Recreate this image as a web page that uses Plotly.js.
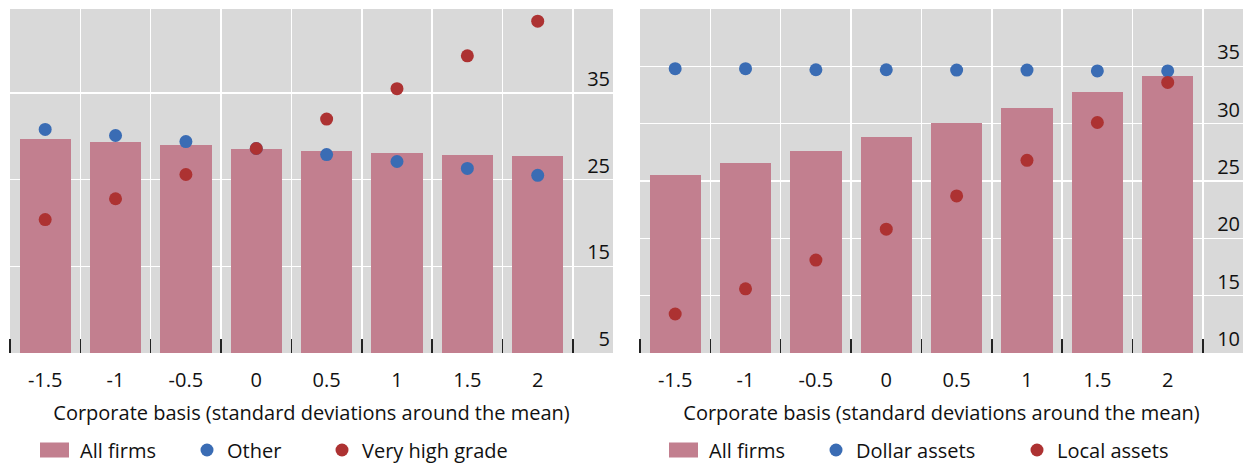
<!DOCTYPE html>
<html><head><meta charset="utf-8">
<script src="https://cdn.plot.ly/plotly-3.0.1.min.js"></script>
<style>html,body{margin:0;padding:0;background:#fff}#chart{width:1250px;height:465px}</style>
</head><body><div id="chart"></div>
<script>
const categories = ['-1.5', '-1', '-0.5', '0', '0.5', '1', '1.5', '2'];
const leftAllFirms = [29.7, 29.3, 29.0, 28.6, 28.3, 28.1, 27.8, 27.7];
const leftOther = [30.8, 30.1, 29.4, 28.6, 27.9, 27.1, 26.3, 25.5];
const leftVeryHighGrade = [20.4, 22.8, 25.6, 28.6, 32.0, 35.5, 39.3, 43.3];
const rightAllFirms = [25.5, 26.6, 27.6, 28.8, 30.05, 31.4, 32.75, 34.15];
const rightDollarAssets = [34.8, 34.8, 34.7, 34.7, 34.67, 34.67, 34.6, 34.6];
const rightLocalAssets = [13.4, 15.6, 18.1, 20.8, 23.7, 26.8, 30.1, 33.6];
const leftTicks = [5, 15, 25, 35];
const rightTicks = [10, 15, 20, 25, 30, 35];
const xTitle = 'Corporate basis (standard deviations around the mean)';

const idx = categories.map((c, i) => i);
const FONT = 'Open Sans, Noto Sans, sans-serif';
const FS = 20;
const BAR = '#c27f8f', BLUE = '#3a6cb4', RED = '#ad3232';

const traces = [
  {type: 'bar', x: idx, y: leftAllFirms, name: 'All firms', marker: {color: BAR}, width: 0.73, xaxis: 'x', yaxis: 'y', legend: 'legend'},
  {type: 'scatter', mode: 'markers', x: idx, y: leftOther, name: 'Other', marker: {color: BLUE, size: 13}, xaxis: 'x', yaxis: 'y', legend: 'legend2'},
  {type: 'scatter', mode: 'markers', x: idx, y: leftVeryHighGrade, name: 'Very high grade', marker: {color: RED, size: 13}, xaxis: 'x', yaxis: 'y', legend: 'legend3'},
  {type: 'bar', x: idx, y: rightAllFirms, name: 'All firms', marker: {color: BAR}, width: 0.73, xaxis: 'x2', yaxis: 'y2', legend: 'legend4'},
  {type: 'scatter', mode: 'markers', x: idx, y: rightDollarAssets, name: 'Dollar assets', marker: {color: BLUE, size: 13}, xaxis: 'x2', yaxis: 'y2', legend: 'legend5'},
  {type: 'scatter', mode: 'markers', x: idx, y: rightLocalAssets, name: 'Local assets', marker: {color: RED, size: 13}, xaxis: 'x2', yaxis: 'y2', legend: 'legend6'}
];

function xax(domain) {
  return {
    domain: domain, range: [-0.5, 8.07], tickmode: 'array', tickvals: idx, ticktext: categories,
    showgrid: false, zeroline: false, ticks: '', ticklabelstandoff: 13, automargin: false,
    tickfont: {family: FONT, size: FS, color: '#111'},
    title: {text: xTitle, font: {family: FONT, size: FS, color: '#111'}, standoff: 13},
    minor: {tick0: -0.5, dtick: 1, showgrid: true, gridcolor: '#ffffff', gridwidth: 1.5, ticks: 'inside', ticklen: 14, tickwidth: 1.5, tickcolor: '#222'},
    fixedrange: true
  };
}
function yax(range, ticks, anchor) {
  return {
    range: range, side: 'right', anchor: anchor, tickmode: 'array', tickvals: ticks, automargin: false,
    ticklabelposition: 'inside top', showgrid: true, gridcolor: '#ffffff', gridwidth: 1.5,
    zeroline: false, ticks: '', tickfont: {family: FONT, size: FS, color: '#111'}, fixedrange: true
  };
}
function leg(px) {
  return {orientation: 'h', x: px / 1250, xanchor: 'left', y: -0.282, yanchor: 'middle',
    bgcolor: 'rgba(0,0,0,0)', font: {family: FONT, size: FS, color: '#111'}};
}
const layout = {
  width: 1250, height: 465, margin: {l: 0, r: 0, t: 9, b: 112, autoexpand: false},
  paper_bgcolor: '#ffffff', plot_bgcolor: '#d9d9d9', showlegend: true, bargap: 0,
  xaxis: xax([0.008, 0.4904]), yaxis: yax([5, 44.7], leftTicks, 'x'),
  xaxis2: xax([0.512, 0.9944]), yaxis2: yax([10, 40], rightTicks, 'x2'),
  legend: leg(40), legend2: leg(187), legend3: leg(322),
  legend4: leg(669), legend5: leg(816), legend6: leg(1017)
};
function widenSwatches() {
  document.querySelectorAll('g.legendpoints path').forEach(function (p) {
    var d = (p.getAttribute('d') || '').replace(/\s/g, '');
    if (d === 'M6,6H-6V-6H6Z' || p.classList.contains('legendbar')) {
      p.setAttribute('d', 'M9,7.5H-28V-7.5H9Z');
    }
  });
}
const gd = document.getElementById('chart');
Plotly.newPlot(gd, traces, layout, {staticPlot: true}).then(function () {
  widenSwatches();
});
</script></body></html>
